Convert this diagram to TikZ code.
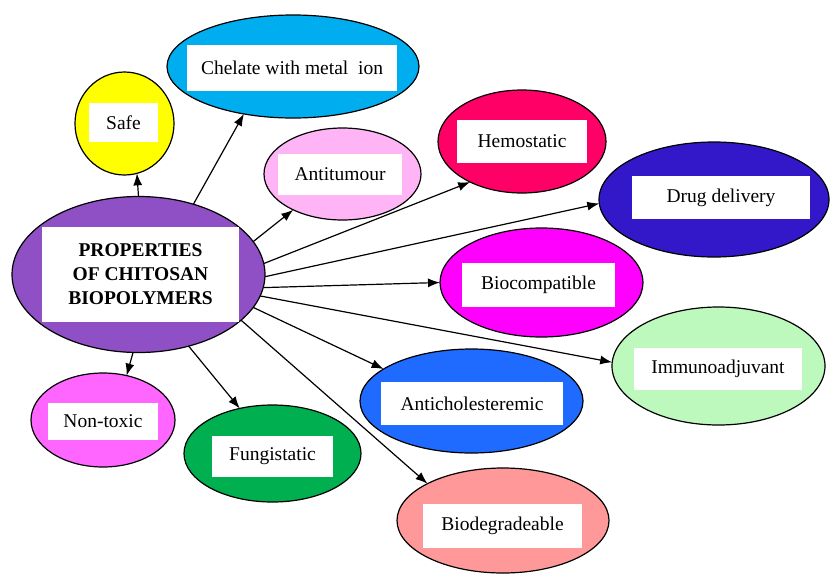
\documentclass[tikz,border=0pt]{standalone}
\usepackage{fontspec}
\setmainfont{Liberation Serif}
\usepackage{tikz}
\usetikzlibrary{arrows.meta,shapes.geometric}
\definecolor{chitpurple}{HTML}{8F4FC5}
\definecolor{chityellow}{HTML}{FFFF00}
\definecolor{chitcyan}{HTML}{00AEEF}
\definecolor{chitpink}{HTML}{FFB5F5}
\definecolor{chitred}{HTML}{FF0066}
\definecolor{chitnavy}{HTML}{3318C9}
\definecolor{chitmagenta}{HTML}{FF00FF}
\definecolor{chitmint}{HTML}{BDF9BD}
\definecolor{chitblue}{HTML}{1F6BFF}
\definecolor{chitsalmon}{HTML}{FF9999}
\definecolor{chitorchid}{HTML}{FF66FF}
\definecolor{chitgreen}{HTML}{00B050}

\begin{document}
\begin{tikzpicture}[x=1pt, y=-1pt,
  blob/.style={ellipse, draw=black, line width=1.2pt, inner sep=0pt, outer sep=0pt},
  tag/.style={rectangle, fill=white, inner sep=0pt, outer sep=0pt, align=center, font=\fontsize{19.5}{24}\selectfont},
  arrow/.style={-{Latex[length=12pt,width=9pt]}, line width=1.2pt, draw=black}
]
\useasboundingbox (0,0) rectangle (830,574);
\node[blob, fill=chitpurple, minimum width=253, minimum height=156] (props) at (138.5,274.5) {};
\node[tag, minimum width=197, minimum height=95, font=\fontsize{19.5}{24}\selectfont\bfseries] (props-t) at (140.5,274.5) {PROPERTIES\\OF CHITOSAN\\BIOPOLYMERS};
\node[blob, fill=chityellow, minimum width=99, minimum height=103] (safe) at (124.5,123.5) {};
\node[tag, minimum width=69, minimum height=39] (safe-t) at (123.5,122.5) {Safe};
\node[blob, fill=chitcyan, minimum width=252, minimum height=103] (chelate) at (293,66.5) {};
\node[tag, minimum width=210, minimum height=46] (chelate-t) at (292,68) {Chelate with metal~ ion};
\node[blob, fill=chitpink, minimum width=157, minimum height=92] (antitum) at (342.5,174) {};
\node[tag, minimum width=124, minimum height=41] (antitum-t) at (340,174.5) {Antitumour};
\node[blob, fill=chitred, minimum width=168, minimum height=103] (hemo) at (522,141.5) {};
\node[tag, minimum width=130, minimum height=43] (hemo-t) at (522,141.5) {Hemostatic};
\node[blob, fill=chitnavy, minimum width=230, minimum height=115] (drug) at (714,199.5) {};
\node[tag, minimum width=178, minimum height=43] (drug-t) at (721,197.5) {Drug delivery};
\node[blob, fill=chitmagenta, minimum width=203, minimum height=109] (biocomp) at (541.5,282.5) {};
\node[tag, minimum width=153, minimum height=44] (biocomp-t) at (538.5,285) {Biocompatible};
\node[blob, fill=chitmint, minimum width=213, minimum height=118] (immuno) at (718.5,366) {};
\node[tag, minimum width=168, minimum height=42] (immuno-t) at (718,369) {Immunoadjuvant};
\node[blob, fill=chitblue, minimum width=223, minimum height=104] (antichol) at (471.5,401) {};
\node[tag, minimum width=182, minimum height=43] (antichol-t) at (472,403.5) {Anticholesteremic};
\node[blob, fill=chitsalmon, minimum width=212, minimum height=105] (biodeg) at (503,520.5) {};
\node[tag, minimum width=159, minimum height=44] (biodeg-t) at (502.5,526) {Biodegradeable};
\node[blob, fill=chitorchid, minimum width=144, minimum height=94] (nontox) at (103,420) {};
\node[tag, minimum width=110, minimum height=37] (nontox-t) at (103,421.5) {Non-toxic};
\node[blob, fill=chitgreen, minimum width=177, minimum height=97] (fungi) at (272.5,453.5) {};
\node[tag, minimum width=121, minimum height=41] (fungi-t) at (272.5,456.5) {Fungistatic};
\draw[arrow] (props.90) -- (safe.-76);
\draw[arrow] (props.52.7) -- (chelate.-136);
\draw[arrow] (props.16.5) -- (antitum.-144);
\draw[arrow] (props.5.6) -- (hemo.-142.6);
\draw[arrow] (props.-1.1) -- (drug.182);
\draw[arrow] (props.-6) -- (biocomp.180);
\draw[arrow] (props.-10.7) -- (immuno.178);
\draw[arrow] (props.-16) -- (antichol.160);
\draw[arrow] (props.-24.7) -- (biodeg.154);
\draw[arrow] (props.-55) -- (fungi.126);
\draw[arrow] (props.-94) -- (nontox.62);
\end{tikzpicture}
\end{document}
